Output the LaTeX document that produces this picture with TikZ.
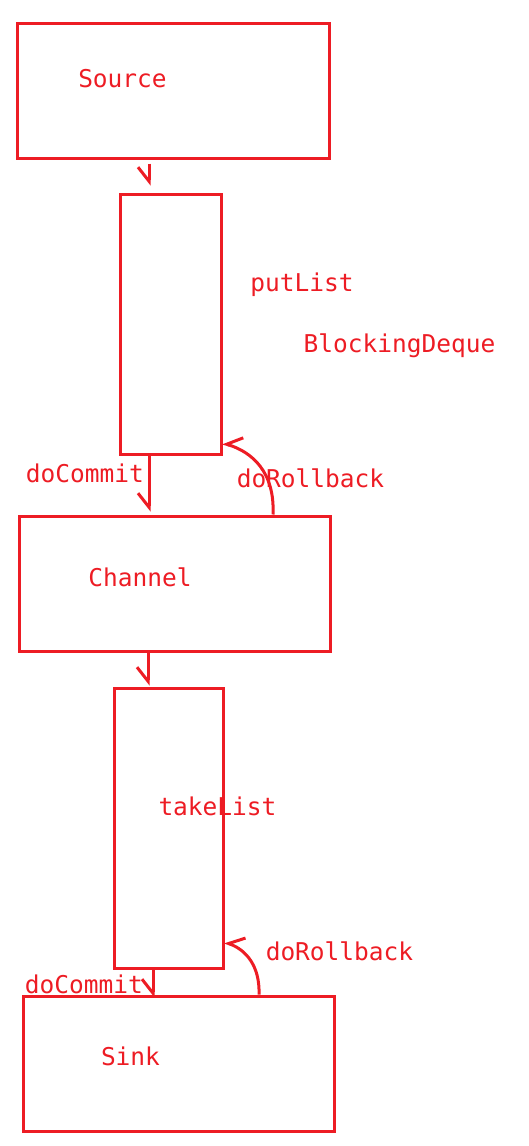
\documentclass[tikz,border=0pt]{standalone}
\usepackage{fontspec}
\setmonofont{DejaVu Sans Mono}
\usetikzlibrary{arrows.meta, positioning}
\definecolor{paintred}{RGB}{237,28,36}
\tikzset{
  box/.style={draw=paintred, line width=3pt, rectangle, inner sep=0pt},
  barb/.style={draw=paintred, line width=3pt, -{Straight Barb[harpoon, swap, length=14pt, width=22pt]}},
  lbl/.style={text=paintred, anchor=base, inner sep=0pt, font=\ttfamily\fontsize{24.5}{30}\selectfont}
}
\begin{document}
\begin{tikzpicture}[x=1pt, y=-1pt]
    \useasboundingbox (0,0) rectangle (529,1146);
    % Draw stages as boxes
    \node[box, minimum width=312pt, minimum height=135pt] (source) at (173,90.5) {};
    \node[box, minimum width=101pt, minimum height=260pt] (put) at (170.5,324) {};
    \node[box, minimum width=311pt, minimum height=135pt] (channel) at (174.5,583.5) {};
    \node[box, minimum width=109pt, minimum height=280pt] (take) at (168.5,828) {};
    \node[box, minimum width=311pt, minimum height=135pt] (sink) at (178.5,1063.5) {};

    % Draw arrows connecting boxes
    \draw[barb, shorten <=4pt, shorten >=7pt] (source.south -| 149,0) -- (put.north -| 149,0);
    \draw[barb, shorten >=3pt] (put.south -| 149,0) -- (channel.north -| 149,0);
    \draw[barb, shorten >=1pt] (channel.south -| 148,0) -- (take.north -| 148,0);
    \draw[barb, shorten >=-3pt] (take.south -| 153,0) -- (sink.north -| 153,0);
    \draw[barb] (channel.north -| 273,0) .. controls (275,472) and (252,452) .. (put.east |- 0,443);
    \draw[barb] (sink.north -| 259,0) .. controls (260,966) and (246,950) .. (take.east |- 0,942);

    % Add descriptive text
    \node[lbl] (sourcetext) at (122.5,87) {Source};
    \node[lbl] (putlist) at (302,291) {putList};
    \node[lbl] (deque) at (399.5,352) {BlockingDeque};
    \node[lbl] (commitA) at (85,482) {doCommit};
    \node[lbl] (rollbackA) at (310.5,487) {doRollback};
    \node[lbl] (channeltext) at (140,586) {Channel};
    \node[lbl] (takelist) at (217.5,815) {takeList};
    \node[lbl] (rollbackB) at (339.5,960) {doRollback};
    \node[lbl] (commitB) at (84,993) {doCommit};
    \node[lbl] (sinktext) at (130.5,1065) {Sink};
\end{tikzpicture}
\end{document}
